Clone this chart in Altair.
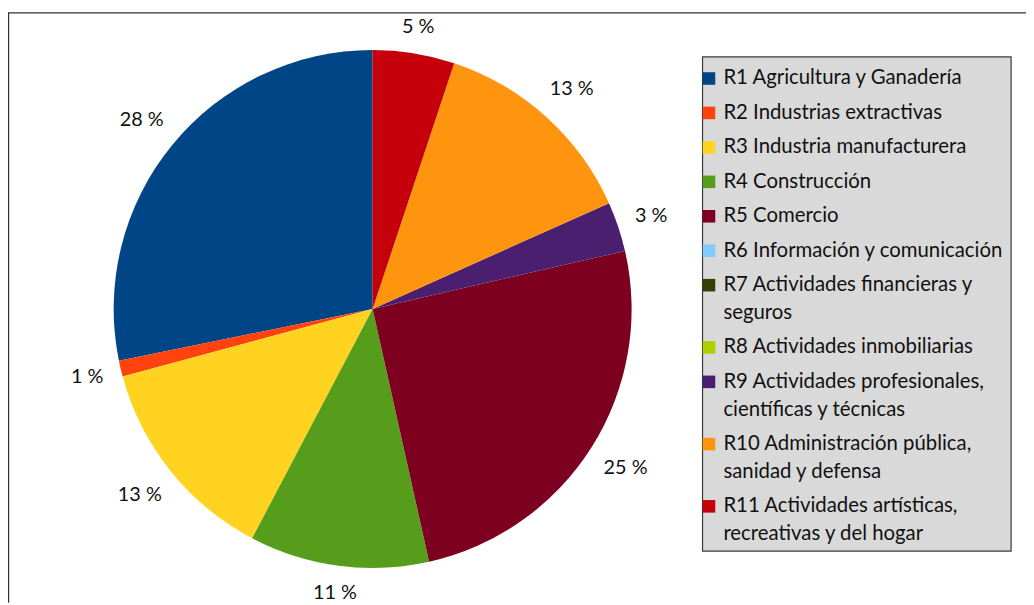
import altair as alt
import pandas as pd

# ---- data ----
codes = ["R1", "R2", "R3", "R4", "R5", "R6", "R7", "R8", "R9", "R10", "R11"]
legend_labels = [
    "R1 Agricultura y Ganadería",
    "R2 Industrias extractivas",
    "R3 Industria manufacturera",
    "R4 Construcción",
    "R5 Comercio",
    "R6 Información y comunicación",
    "R7 Actividades financieras y\nseguros",
    "R8 Actividades inmobiliarias",
    "R9 Actividades profesionales,\ncientíficas y técnicas",
    "R10 Administración pública,\nsanidad y defensa",
    "R11 Actividades artísticas,\nrecreativas y del hogar",
]
shares = [28.2, 1.0, 13.1, 11.2, 25.1, 0.0, 0.0, 0.0, 3.1, 13.2, 5.1]
colors = ["#004586", "#ff420e", "#ffd320", "#579d1c", "#7e0021", "#83caff",
          "#314004", "#aecf00", "#4b1f6f", "#ff950e", "#c5000b"]

W, H = 1026, 597
FONT = "Lato"
CX, CY, R = 367.5, 301, 261

pie_df = pd.DataFrame({"code": codes, "idx": range(1, len(codes) + 1), "share": shares})
color_scale = alt.Scale(domain=codes, range=colors)

# pie
pie = alt.Chart(pie_df).mark_arc(radius=R).encode(
    theta=alt.Theta("share:Q", stack=True),
    color=alt.Color("code:N", scale=color_scale, legend=None),
    order=alt.Order("idx:Q", sort="descending"),
    x=alt.value(CX),
    y=alt.value(CY),
)

# outside labels, placed just beyond the rim (box-aware offset)
labels = alt.Chart(pie_df).transform_joinaggregate(
    total="sum(share)"
).transform_window(
    cum="sum(share)", sort=[alt.SortField("idx", order="descending")],
    frame=[None, 0]
).transform_filter("datum.share > 0").transform_calculate(
    lab="format(datum.share, '.0f') + ' %'",
    ang="(datum.cum - datum.share / 2) / datum.total * 2 * PI",
).transform_calculate(
    rr=f"{R} + 15 + abs(sin(datum.ang)) * 6 * length(datum.lab) + abs(cos(datum.ang)) * 9.5"
).transform_calculate(
    px=f"{CX} + datum.rr * sin(datum.ang)",
    py=f"{CY} - datum.rr * cos(datum.ang)",
).mark_text(font=FONT, fontSize=20, color="#111111",
            align="center", baseline="middle").encode(
    x=alt.X("px:Q", scale=None, axis=None),
    y=alt.Y("py:Q", scale=None, axis=None),
    text=alt.Text("lab:N"),
)

# manual legend (line slots)
GAP = 0.24
rows_txt, rows_sym = [], []
slot = 0.0
for c, lab in zip(codes, legend_labels):
    lines = lab.split("\n")
    rows_sym.append({"code": c, "slot": slot})
    for k, ln in enumerate(lines):
        rows_txt.append({"code": c, "slot": slot + k, "line": ln})
    slot += len(lines) + GAP
last = slot - 1 - GAP
yscale = alt.Scale(domain=[0, last], range=[68.7, 68.7 + last * 28])

legend_box = alt.Chart(pd.DataFrame({"a": [0]})).mark_rect(
    fill="#d9d9d9", stroke="#3a3a3a", strokeWidth=1.2
).encode(x=alt.value(700), x2=alt.value(1011), y=alt.value(47), y2=alt.value(545))

legend_sym = alt.Chart(pd.DataFrame(rows_sym)).mark_square(size=160, opacity=1).encode(
    x=alt.value(706.5),
    y=alt.Y("slot:Q", scale=yscale, axis=None),
    color=alt.Color("code:N", scale=color_scale, legend=None),
)

legend_txt = alt.Chart(pd.DataFrame(rows_txt)).mark_text(
    font=FONT, fontSize=20.5, color="#111111", align="left", baseline="middle"
).encode(
    x=alt.value(721),
    y=alt.Y("slot:Q", scale=yscale, axis=None),
    text="line:N",
)

# frame lines
frame_left = alt.Chart(pd.DataFrame({"a": [0]})).mark_rule(color="#333333", strokeWidth=1.2).encode(
    x=alt.value(0.6), y=alt.value(2.5), y2=alt.value(H)
)
frame_top = alt.Chart(pd.DataFrame({"a": [0]})).mark_rule(color="#333333", strokeWidth=1.2).encode(
    x=alt.value(0), x2=alt.value(W), y=alt.value(2.6)
)

chart = alt.layer(
    frame_left, frame_top, pie, labels, legend_box, legend_sym, legend_txt
).resolve_scale(y="independent", x="independent").properties(
    width=W, height=H, autosize=alt.AutoSizeParams(type="none"), padding=0
).configure_view(stroke=None)

chart.save("out.html", embed_options={"renderer": "svg", "actions": False})
